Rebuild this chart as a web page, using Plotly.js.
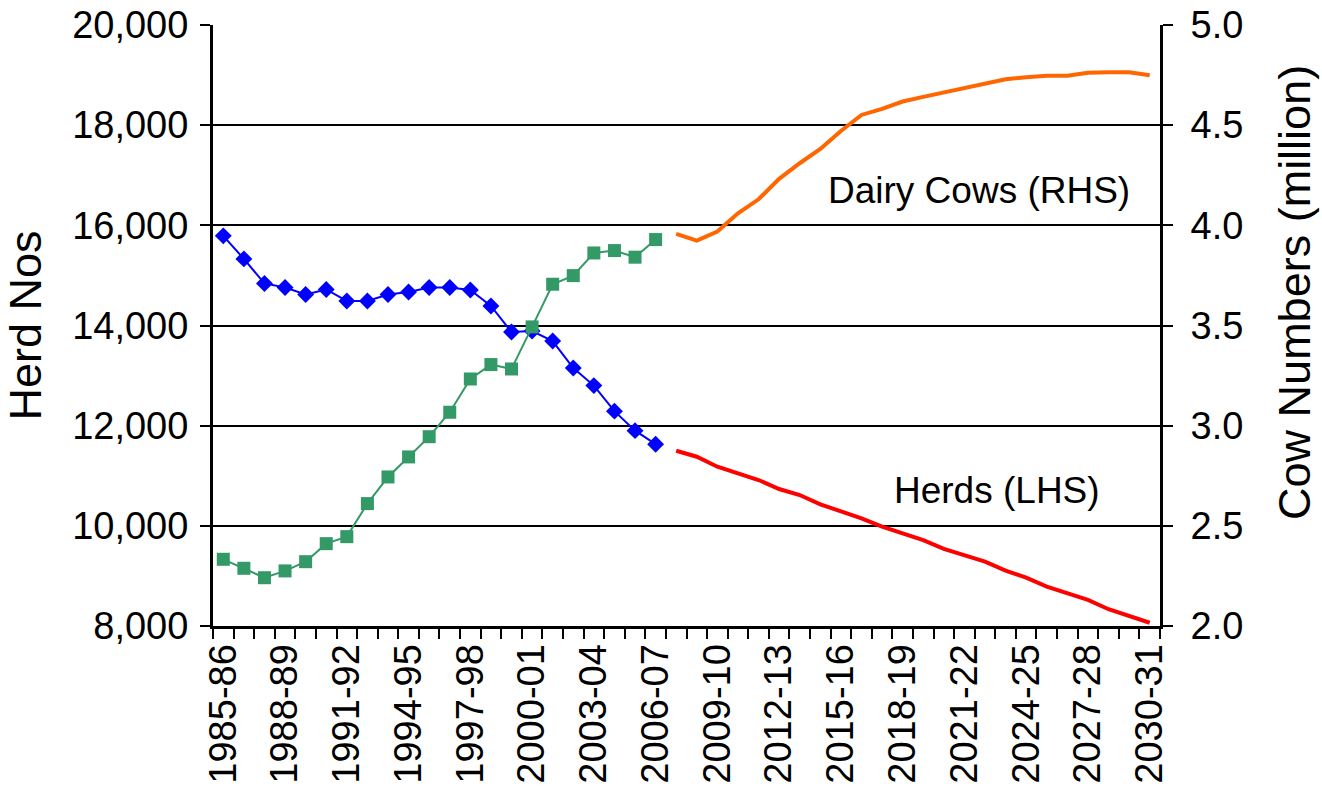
<!DOCTYPE html>
<html>
<head>
<meta charset="utf-8">
<script src="https://cdn.plot.ly/plotly-3.0.1.min.js"></script>
<style>html,body{margin:0;padding:0;background:#fff;}#chart{width:1322px;height:791px;}</style>
</head>
<body>
<div id="chart"></div>
<script>
const categories = ["1985-86","1986-87","1987-88","1988-89","1989-90","1990-91","1991-92","1992-93","1993-94","1994-95","1995-96","1996-97","1997-98","1998-99","1999-00","2000-01","2001-02","2002-03","2003-04","2004-05","2005-06","2006-07","2007-08","2008-09","2009-10","2010-11","2011-12","2012-13","2013-14","2014-15","2015-16","2016-17","2017-18","2018-19","2019-20","2020-21","2021-22","2022-23","2023-24","2024-25","2025-26","2026-27","2027-28","2028-29","2029-30","2030-31"];

// Historical herd numbers (LHS), 1985-86 to 2006-07
const herdsHist = [15790,15330,14840,14760,14620,14720,14490,14490,14620,14670,14760,14760,14710,14390,13870,13890,13690,13150,12800,12290,11900,11630];
// Historical dairy cow numbers (RHS, million), 1985-86 to 2006-07
const cowsHist = [2.333,2.288,2.241,2.275,2.321,2.411,2.446,2.611,2.744,2.844,2.945,3.067,3.233,3.305,3.283,3.493,3.706,3.749,3.862,3.874,3.841,3.929];
// Projected herd numbers (LHS), 2007-08 to 2030-31
const herdsProj = [11500,11380,11180,11050,10915,10735,10615,10430,10290,10150,9985,9850,9715,9540,9405,9285,9105,8965,8785,8655,8520,8335,8205,8065];
// Projected dairy cow numbers (RHS, million), 2007-08 to 2030-31
const cowsProj = [3.957,3.924,3.969,4.060,4.130,4.232,4.310,4.381,4.471,4.551,4.581,4.618,4.641,4.664,4.686,4.706,4.729,4.739,4.747,4.747,4.762,4.764,4.764,4.749];

const labelEvery = 3;
const tickLabels = categories.filter((c,i)=>i%labelEvery===0);

const idx = categories.map((c,i)=>i);
const nHist = herdsHist.length;
const xHist = idx.slice(0, nHist);
const xProj = idx.slice(nHist, nHist + herdsProj.length);
const tickvals = idx.filter(i=>i%labelEvery===0);
const boundaries = categories.map((c,i)=>i-0.5).concat([categories.length-0.5]);

const FONT = "Liberation Sans, Arial, sans-serif";

const traces = [
  {x:xHist, y:herdsHist, type:'scatter', mode:'lines+markers', name:'Herds',
   line:{color:'#0000FF', width:2}, marker:{symbol:'diamond', size:13, color:'#0000FF'}, yaxis:'y'},
  {x:xHist, y:cowsHist, type:'scatter', mode:'lines+markers', name:'Dairy Cows',
   line:{color:'#339966', width:2}, marker:{symbol:'square', size:13, color:'#339966'}, yaxis:'y2'},
  {x:xProj, y:herdsProj, type:'scatter', mode:'lines', name:'Herds (LHS)',
   line:{color:'#FF0000', width:4}, yaxis:'y'},
  {x:xProj, y:cowsProj, type:'scatter', mode:'lines', name:'Dairy Cows (RHS)',
   line:{color:'#FF6600', width:4}, yaxis:'y2'}
];

const layout = {
  width:1322, height:791,
  margin:{l:213, r:162, t:25, b:165},
  paper_bgcolor:'#fff', plot_bgcolor:'#fff',
  showlegend:false,
  font:{family:FONT, color:'#000', size:38},
  xaxis:{
    range:[-0.5, categories.length-0.5],
    tickmode:'array', tickvals:tickvals, ticktext:tickLabels,
    tickangle:-90, ticks:'', showgrid:false, zeroline:false,
    showline:true, linecolor:'#000', linewidth:3,
    tickfont:{size:38, family:FONT},
    minor:{tickmode:'array', tickvals:boundaries, ticks:'outside', ticklen:10, tickwidth:2, tickcolor:'#000', showgrid:false}
  },
  yaxis:{
    range:[8000,20000], dtick:2000, tick0:8000, tickformat:',d',
    showgrid:true, gridcolor:'#000', gridwidth:2, zeroline:false,
    showline:true, linecolor:'#000', linewidth:3,
    ticks:'outside', ticklen:10, tickwidth:2, tickcolor:'#000',
    ticklabelstandoff:4,
    tickfont:{size:38, family:FONT},
    title:{text:'Herd Nos', font:{size:45, family:FONT}, standoff:22}
  },
  yaxis2:{
    overlaying:'y', side:'right',
    range:[2,5], dtick:0.5, tick0:2, tickformat:'.1f',
    showgrid:false, zeroline:false,
    showline:true, linecolor:'#000', linewidth:3,
    ticks:'outside', ticklen:10, tickwidth:2, tickcolor:'#000',
    ticklabelstandoff:10,
    tickfont:{size:38, family:FONT}
  },
  annotations:[
    {xref:'paper', yref:'paper', x:0.809, y:0.725, text:'Dairy Cows (RHS)', showarrow:false,
     xanchor:'center', yanchor:'middle', font:{size:37, family:FONT, color:'#000'}},
    {xref:'paper', yref:'paper', x:0.828, y:0.225, text:'Herds (LHS)', showarrow:false,
     xanchor:'center', yanchor:'middle', font:{size:37, family:FONT, color:'#000'}},
    {xref:'paper', yref:'paper', x:1.142, y:0.555, text:'Cow Numbers (million)', showarrow:false,
     textangle:-90, xanchor:'center', yanchor:'middle', font:{size:45, family:FONT, color:'#000'}}
  ]
};

Plotly.newPlot('chart', traces, layout, {displayModeBar:false, staticPlot:true});
</script>
</body>
</html>
